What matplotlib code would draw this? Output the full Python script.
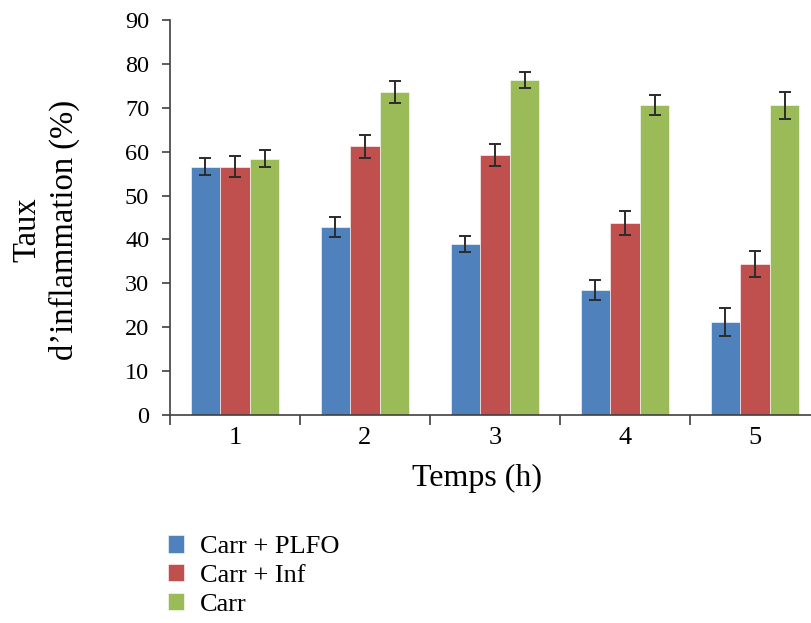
import numpy as np
import matplotlib
matplotlib.use('Agg')
import matplotlib.pyplot as plt

## Data
temps = ['1', '2', '3', '4', '5']
series = ['Carr + PLFO', 'Carr + Inf', 'Carr']
plfo = [56.6, 42.8, 39.0, 28.4, 21.2]
plfo_err = [2.0, 2.3, 1.8, 2.3, 3.1]
inf = [56.6, 61.2, 59.2, 43.8, 34.4]
inf_err = [2.4, 2.7, 2.5, 2.7, 2.9]
carr = [58.4, 73.5, 76.4, 70.6, 70.6]
carr_err = [2.0, 2.5, 1.8, 2.3, 3.1]

colors = ['#4F81BD', '#C0504D', '#9BBB59']
plt.rcParams['font.family'] = ['Liberation Serif', 'DejaVu Serif']

fig = plt.figure(figsize=(8.12, 6.23), dpi=100)
ax = fig.add_axes([170/812, 208/623, 642/812, 395/623])

x = np.arange(1, len(temps)+1)
w = 0.228
for i,(vals,errs) in enumerate(zip([plfo, inf, carr],[plfo_err, inf_err, carr_err])):
    ax.bar(x+(i-1)*w, vals, w, color=colors[i], edgecolor='white', linewidth=0.4,
           label=series[i], zorder=2)
    ax.errorbar(x+(i-1)*w, vals, yerr=errs, fmt='none', ecolor='#2b2b2b',
                elinewidth=1.4, capsize=4, capthick=1.4, zorder=3)

ax.set_xlim(0.5, 0.5+642/130)
ax.set_ylim(0, 90)
ax.set_yticks(np.arange(0, 91, 10))
ax.set_xticks(x)
ax.set_xticklabels(temps)
ax.set_xticks(np.arange(0.5, 5.5, 1), minor=True)
ax.tick_params(axis='x', which='major', length=0, pad=9, labelsize=19)
ax.tick_params(axis='x', which='minor', length=7, width=1.2, color='#404040', direction='out')
ax.tick_params(axis='y', length=6, width=1.2, color='#404040', pad=9, labelsize=17.5)
for s in ['top', 'right']:
    ax.spines[s].set_visible(False)
for s in ['left', 'bottom']:
    ax.spines[s].set_color('#404040')
    ax.spines[s].set_linewidth(1.2)

ax.set_xlabel('Temps (h)', fontsize=23, va='top')
ax.xaxis.set_label_coords((477-170)/642, (415-464)/395)
ax.set_ylabel('Taux\nd’inflammation (%)', fontsize=23.5, ha='center', va='center',
              linespacing=1.25)
ax.yaxis.set_label_coords((46-170)/642, (415-230)/395)

fig.legend(loc='upper left', bbox_to_anchor=(168/812, 1-535/623), frameon=False,
           fontsize=19, handlelength=0.62, handleheight=0.65, handletextpad=0.6,
           labelspacing=0.22, borderpad=0, borderaxespad=0)

fig.savefig('out.png', dpi=100)
